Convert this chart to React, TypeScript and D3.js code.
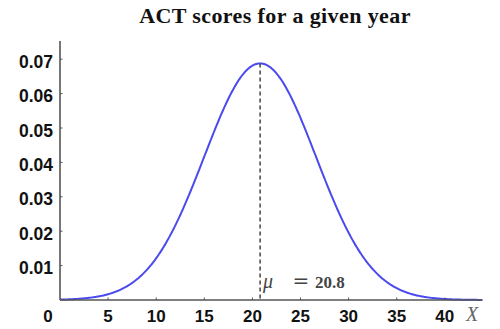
import React from "react";
import * as d3 from "d3";

const title = "ACT scores for a given year";
const mu = 20.8;
const sigma = 5.8;
const xTicks = [0, 5, 10, 15, 20, 25, 30, 35, 40];
const yTicks = [0.01, 0.02, 0.03, 0.04, 0.05, 0.06, 0.07];
const xMax = 43.9;
const yMax = 0.0753;
const muValue = "20.8";

export default function App() {
  const W = 500, H = 329;
  const x = d3.scaleLinear().domain([0, 44]).range([60, 483.3]);
  const y = d3.scaleLinear().domain([0, 0.07]).range([300, 59.2]);
  const pdf = (v: number) => Math.exp(-0.5 * ((v - mu) / sigma) ** 2) / (sigma * Math.sqrt(2 * Math.PI));
  const xs = d3.range(0, xMax + 0.001, 0.1);
  const line = d3.line<number>().x((d) => x(d)).y((d) => y(pdf(d)));
  const axisColor = "#555";
  const sans = "Liberation Sans, Arial, sans-serif";
  const serif = "Liberation Serif, Times New Roman, serif";
  return (
    <svg width={W} height={H} style={{ position: "absolute", left: 0, top: 0 }}>
      <rect width={W} height={H} fill="white" />
      <text x={275} y={23} textAnchor="middle" fontFamily={serif} fontWeight="bold" fontSize={22} letterSpacing={0.4} fill="#111">{title}</text>
      <path d={line(xs) || ""} fill="none" stroke="#4a4aee" strokeWidth={2} />
      <line x1={x(mu)} x2={x(mu)} y1={y(pdf(mu))} y2={y(0)} stroke="#444" strokeWidth={1.5} strokeDasharray="4,3" />
      <line x1={x(0)} x2={x(0)} y1={y(yMax)} y2={y(0)} stroke={axisColor} strokeWidth={1.6} />
      <line x1={x(0)} x2={x(xMax)} y1={y(0)} y2={y(0)} stroke={axisColor} strokeWidth={1.6} />
      {yTicks.map((t) => (
        <g key={t}>
          <line x1={x(0)} x2={x(0) + 2.5} y1={y(t)} y2={y(t)} stroke={axisColor} strokeWidth={1} />
          <text x={53} y={y(t) + 8.5} textAnchor="end" fontFamily={sans} fontWeight="bold" fontSize={17.5} fill="#111">{t.toFixed(2)}</text>
        </g>
      ))}
      {xTicks.map((t) => (
        <g key={t}>
          {t > 0 && <line x1={x(t)} x2={x(t)} y1={y(0)} y2={y(0) - 2.5} stroke={axisColor} strokeWidth={1} />}
          <text x={t === 0 ? 48 : x(t)} y={322} textAnchor="middle" fontFamily={sans} fontWeight="bold" fontSize={17} fill="#111">{t}</text>
        </g>
      ))}
      <text x={472} y={321} textAnchor="middle" fontFamily={serif} fontStyle="italic" fontSize={20} fill="#666">X</text>
      <text x={263} y={288} fontFamily={serif} fontSize={20} fontStyle="italic" fill="#444">μ</text>
      <text x={301} y={288} textAnchor="middle" fontFamily="DejaVu Serif, serif" fontSize={20} fill="#444">=</text>
      <text x={315} y={288} fontFamily={serif} fontSize={17} fontWeight="600" fill="#444">{muValue}</text>
    </svg>
  );
}
